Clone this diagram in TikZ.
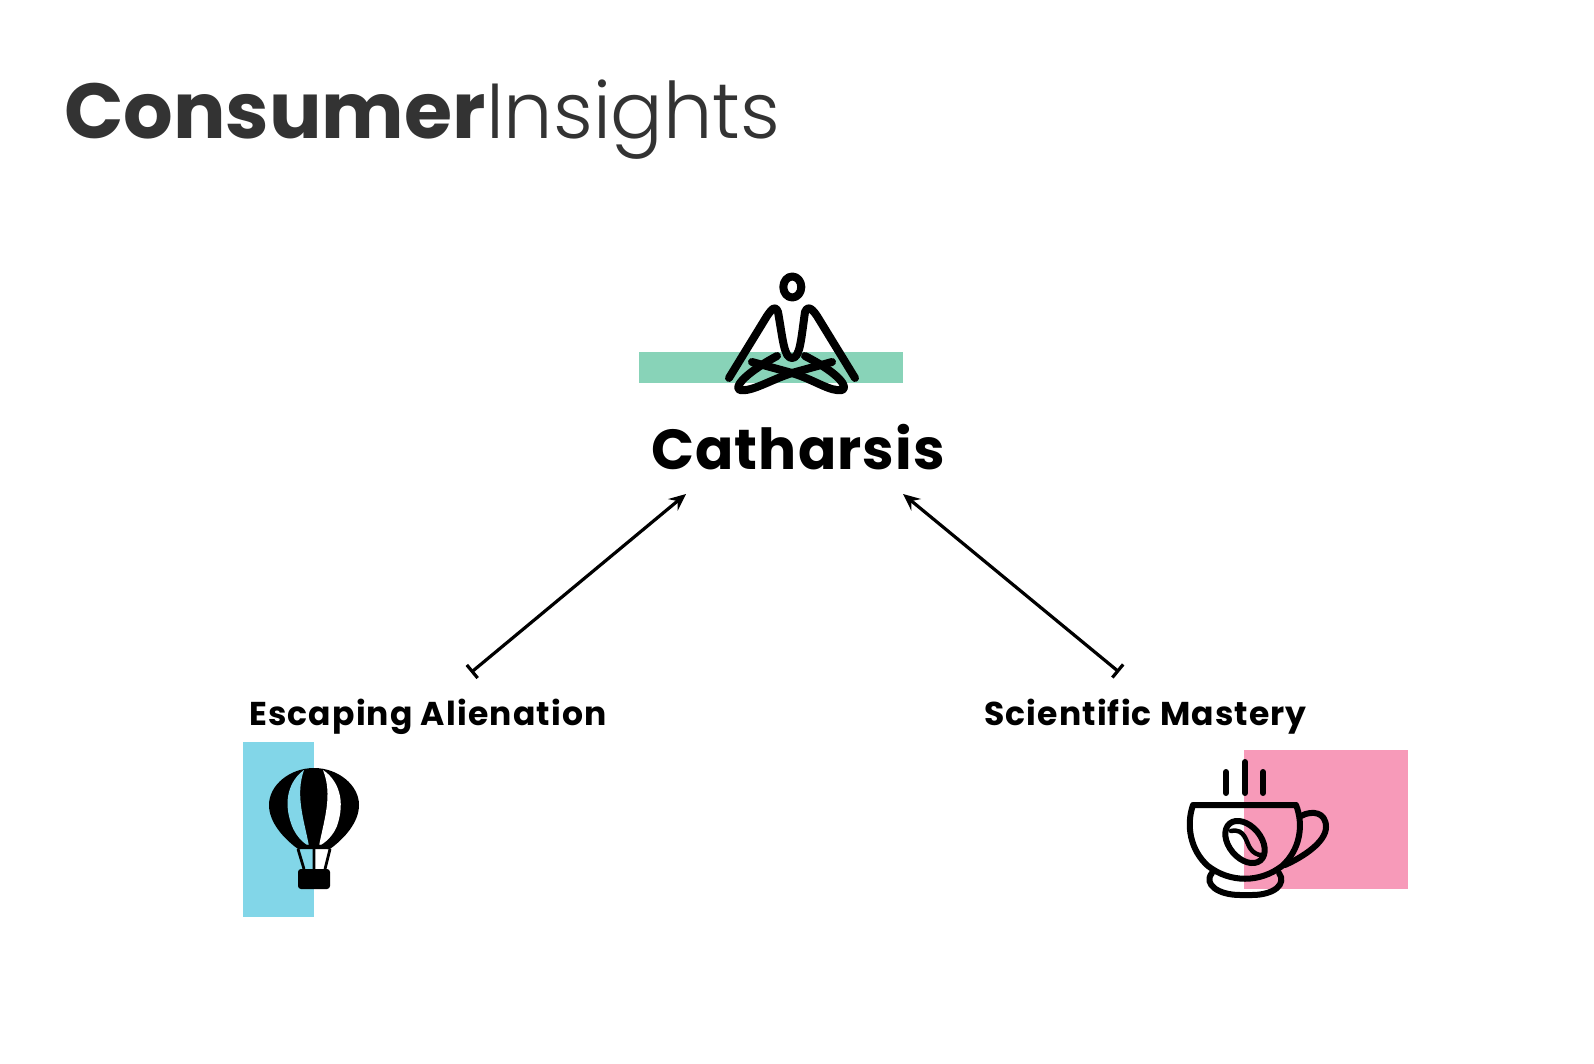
\documentclass[tikz,border=0pt]{standalone}
\usepackage{fontspec}
\setmainfont{Poppins}
\newfontfamily\titleb{Poppins}[BoldFont={Poppins Bold}]
\newfontfamily\titlel{Poppins Light}
\newfontfamily\heads{Poppins Bold}[LetterSpace=2]
\newfontfamily\subheads{Poppins Bold}[LetterSpace=3.5]
\definecolor{mint}{HTML}{88D3B8}
\definecolor{sky}{HTML}{82D6E8}
\definecolor{rose}{HTML}{F79AB9}
\usetikzlibrary{arrows.meta}
\tikzset{
  ic/.style={line width=8pt,line cap=round,line join=round},
  cupl/.style={line width=6pt,line cap=round,line join=round},
  conn/.style={line width=3.2pt,{Bar[width=17pt,length=3.2pt]}-{Stealth[length=17pt,width=15pt,inset=6pt]}},
  lab/.style={anchor=base west,inner sep=0pt,text=black}
}
\begin{document}
\begin{tikzpicture}[x=1pt,y=-1pt]
\useasboundingbox (0,0) rectangle (1594,1064);
\fill[white] (0,0) rectangle (1594,1064);
\fill[mint] (639,352) rectangle (903,383);
\fill[sky] (243,742) rectangle (314,917);
\fill[rose] (1244,750) rectangle (1407.5,889);
\node[lab,text=black!80,font=\fontsize{78}{78}\selectfont] (title) at (64,139) {{\titleb\bfseries Consumer}{\titlel Insights}};
\node[lab,font=\heads\fontsize{56.5}{56.5}\selectfont] (cath) at (651,469) {Catharsis};
\node[lab,font=\subheads\fontsize{33}{33}\selectfont] (esc) at (249,725) {Escaping Alienation};
\node[lab,font=\subheads\fontsize{33}{33}\selectfont] (sci) at (984,725) {Scientific Mastery};
% connectors
\coordinate (a1) at (471,672.5);
\coordinate (a2) at (686,494);
\coordinate (b1) at (1119,672);
\coordinate (b2) at (903,494);
\draw[conn] (a1) -- (a2);
\draw[conn] (b1) -- (b2);
% meditator
\draw[ic] (792.3,287) ellipse [x radius=9pt,y radius=10.5pt];
\draw[ic] (729,378) -- (767,316) .. controls (773,307) and (776,306) .. (778,312) .. controls (783,340) and (784,358) .. (792,358) .. controls (800,358) and (801,340) .. (805,312) .. controls (807,306) and (811,307) .. (817,316) -- (855,378);
\draw[ic] (752,362) -- (792,373) .. controls (815,380) and (830,392) .. (842,390) .. controls (848,388) and (842,375) .. (805,356);
\draw[ic] (832,362) -- (792,373) .. controls (770,380) and (752,392) .. (740,390) .. controls (734,388) and (742,375) .. (777,356);
% balloon
\fill (314,768) .. controls (290,768) and (269,785) .. (269,805) .. controls (269,822) and (283,838) .. (298,849) -- (330,849) .. controls (345,838) and (359,822) .. (359,805) .. controls (359,785) and (338,768) .. (314,768) -- cycle;
\fill[sky] (304,770) .. controls (290,780) and (282,800) .. (292,826) .. controls (296,836) and (303,843) .. (309,846) .. controls (304,820) and (295,795) .. (304,770) -- cycle;
\fill[white] (323,770) .. controls (338,780) and (346,800) .. (337,826) .. controls (333,836) and (325,843) .. (319,846) .. controls (324,820) and (333,795) .. (323,770) -- cycle;
\fill[sky] (301,852) .. controls (305,850) and (309,850) .. (314,850) -- (314,869) -- (306,869) -- cycle;
\draw[line width=2.8pt,line join=round] (298,849) -- (304,869) (314,847) -- (314,869) (330,849) -- (325,869);
\draw[line width=2.8pt] (299,848) .. controls (308,845) and (320,845) .. (329,848);
\fill[rounded corners=3pt] (298,869) rectangle (330,889);
% cup
\draw[cupl] (1226,772) -- (1226,793) (1245,762) -- (1245,793) (1263,772) -- (1263,793);
\draw[cupl] (1193,805) -- (1296,805) .. controls (1304,825) and (1300,850) .. (1282,866) .. controls (1260,883) and (1230,883) .. (1208,866) .. controls (1190,850) and (1186,825) .. (1193,805) -- cycle;
\draw[cupl] (1301,816) .. controls (1312,810) and (1326,812) .. (1326,827) .. controls (1326,842) and (1303,857) .. (1285,865);
\draw[cupl] (1212,873) .. controls (1203,884) and (1218,895) .. (1240,895) -- (1252,895) .. controls (1274,895) and (1287,884) .. (1279,873);
\draw[cupl] (1245,842) ellipse [x radius=24pt,y radius=16pt,rotate=-50];
\draw[line width=4.5pt,line cap=round] (1231,831) .. controls (1245,828) and (1246,842) .. (1250,848) .. controls (1253,853) and (1258,855) .. (1261,855);
\end{tikzpicture}
\end{document}
